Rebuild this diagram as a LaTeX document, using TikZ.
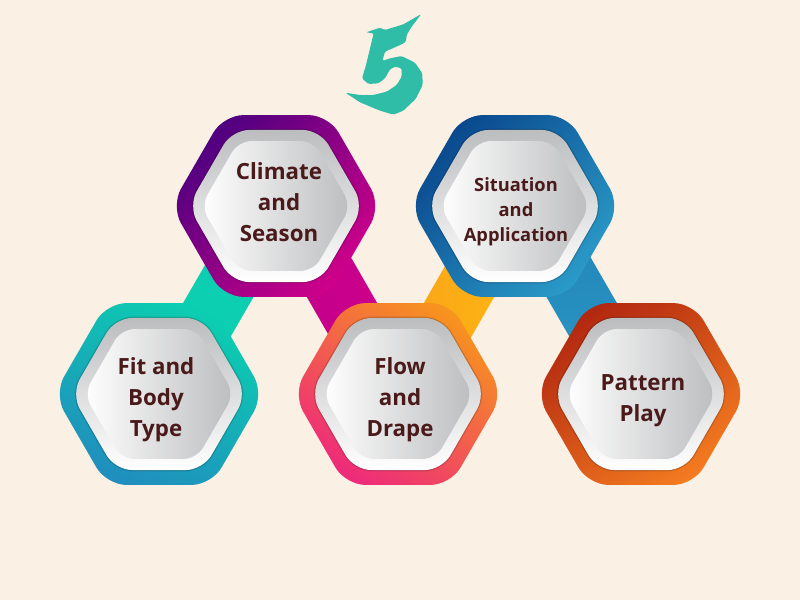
\documentclass[tikz,border=0pt]{standalone}
\usepackage{fontspec}
\setmainfont{Open Sans}
\usetikzlibrary{calc}
\definecolor{pagecream}{HTML}{FBF0E4}
\definecolor{brushteal}{HTML}{2FBDA8}
\definecolor{labelbrown}{HTML}{4A1A1A}
\definecolor{silvergrey}{HTML}{BCBDBF}
\definecolor{bandgreen}{HTML}{0BCFB0}
\definecolor{fitblue}{HTML}{208EBE}
\definecolor{purpledark}{HTML}{4E0080}
\definecolor{pinkdeep}{HTML}{D0008A}
\definecolor{pinkmid}{HTML}{C0008C}
\definecolor{navyblue}{HTML}{0A488E}
\definecolor{skyblue}{HTML}{2A9BC8}
\definecolor{bandblue}{HTML}{2280B6}
\definecolor{flamered}{HTML}{B22810}
\definecolor{flameorange}{HTML}{F47B20}
\definecolor{floworange}{HTML}{F7941D}
\definecolor{flowpink}{HTML}{EE2A7B}
\definecolor{bandamber}{HTML}{F8A01C}
\definecolor{bandyellow}{HTML}{FFBA0E}
\tikzset{
	silverhex/.style={top color=silvergrey, bottom color=white},
	corehex/.style={left color=white, right color=silvergrey},
	biglabel/.style={align=center, text=labelbrown, font=\fontsize{22.3}{31}\selectfont\bfseries},
	smalllabel/.style={align=center, text=labelbrown, font=\fontsize{18.3}{25}\selectfont\bfseries},
}
\def\hexpath[#1](#2)(#3:#4){\path[#1, rounded corners=#4] ($(#2)+(0:#3)$) -- ($(#2)+(60:#3)$) -- ($(#2)+(120:#3)$) -- ($(#2)+(180:#3)$) -- ($(#2)+(240:#3)$) -- ($(#2)+(300:#3)$) -- cycle;}
\def\hexcell(#1)[#2]{
	\hexpath[#2](#1)(105:20)
	\hexpath[draw=black, line width=3pt, opacity=0.08](#1)(87.8:17)
	\hexpath[draw=black, line width=1.5pt, opacity=0.15](#1)(87.8:17)
	\hexpath[silverhex](#1)(87.8:17)
	\hexpath[corehex](#1)(75:13)
}
\def\bandlink[#1](#2)(#3){\path[#1] ($(#2)!29pt!90:(#3)$) -- ($(#2)!29pt!-90:(#3)$) -- ($(#3)!29pt!90:(#2)$) -- ($(#3)!29pt!-90:(#2)$) -- cycle;}

\begin{document}
\begin{tikzpicture}[x=1pt, y=-1pt]
	\fill[pagecream] (0, 0) rectangle (800, 600);

	%%%%% centres %%%%%
	\coordinate (climate) at (276, 206);
	\coordinate (situation) at (515, 206);
	\coordinate (fit) at (159, 394);
	\coordinate (flow) at (398, 394);
	\coordinate (pattern) at (641, 394);

	%%%%% bands %%%%%
	\coordinate (greentop) at (272.6, 206);
	\coordinate (greenend) at (164, 394);
	\coordinate (pinktop) at (288, 206);
	\coordinate (pinkend) at (396, 394);
	\coordinate (yellowtop) at (513, 206);
	\coordinate (yellowend) at (405, 394);
	\coordinate (bluetop) at (527.4, 206);
	\coordinate (blueend) at (636, 394);
	\bandlink[fill=bandgreen](greentop)(greenend)
	\bandlink[left color=pinkmid, right color=pinkdeep](pinktop)(pinkend)
	\bandlink[left color=bandamber, right color=bandyellow](yellowend)(yellowtop)
	\bandlink[top color=bandblue, bottom color=skyblue](bluetop)(blueend)

	%%%%% hexagons %%%%%
	\hexcell(climate)[top color=purpledark, bottom color=pinkdeep, shading angle=45]
	\hexcell(situation)[top color=navyblue, bottom color=skyblue, shading angle=45]
	\hexcell(fit)[top color=bandgreen, bottom color=fitblue, shading angle=-25]
	\hexcell(flow)[top color=floworange, bottom color=flowpink, shading angle=-35]
	\hexcell(pattern)[top color=flamered, bottom color=flameorange, shading angle=35]

	%%%%% labels %%%%%
	\node[biglabel] (climatelabel) at (279, 202) {Climate\\and\\Season};
	\node[smalllabel] (situationlabel) at (516, 212) {Situation\\and\\Application};
	\node[biglabel] (fitlabel) at (156, 400) {Fit and\\Body\\Type};
	\node[biglabel] (flowlabel) at (400, 400) {Flow\\and\\Drape};
	\node[biglabel] (patternlabel) at (643, 401) {Pattern\\Play};

	%%%%% five %%%%%
	\begin{scope}[shift={(340, 10)}, scale=1/3]
		\fill[brushteal, rounded corners=1.5pt] (244, 12) -- (215, 50) -- (200, 75) -- (198, 95) -- (185, 103) -- (135, 125) -- (127, 153) -- (150, 145) -- (185, 138) -- (225, 158) -- (247, 190) -- (248, 225) -- (227, 267) -- (190, 302) -- (160, 314) -- (120, 302) -- (60, 277) -- (16, 248) -- (60, 255) -- (100, 255) -- (140, 245) -- (170, 225) -- (185, 200) -- (185, 175) -- (165, 170) -- (150, 178) -- (135, 205) -- (115, 220) -- (85, 222) -- (66, 205) -- (78, 165) -- (101, 70) -- (78, 67) -- (120, 53) -- (135, 60) -- (190, 43) -- cycle;
	\end{scope}
\end{tikzpicture}
\end{document}
